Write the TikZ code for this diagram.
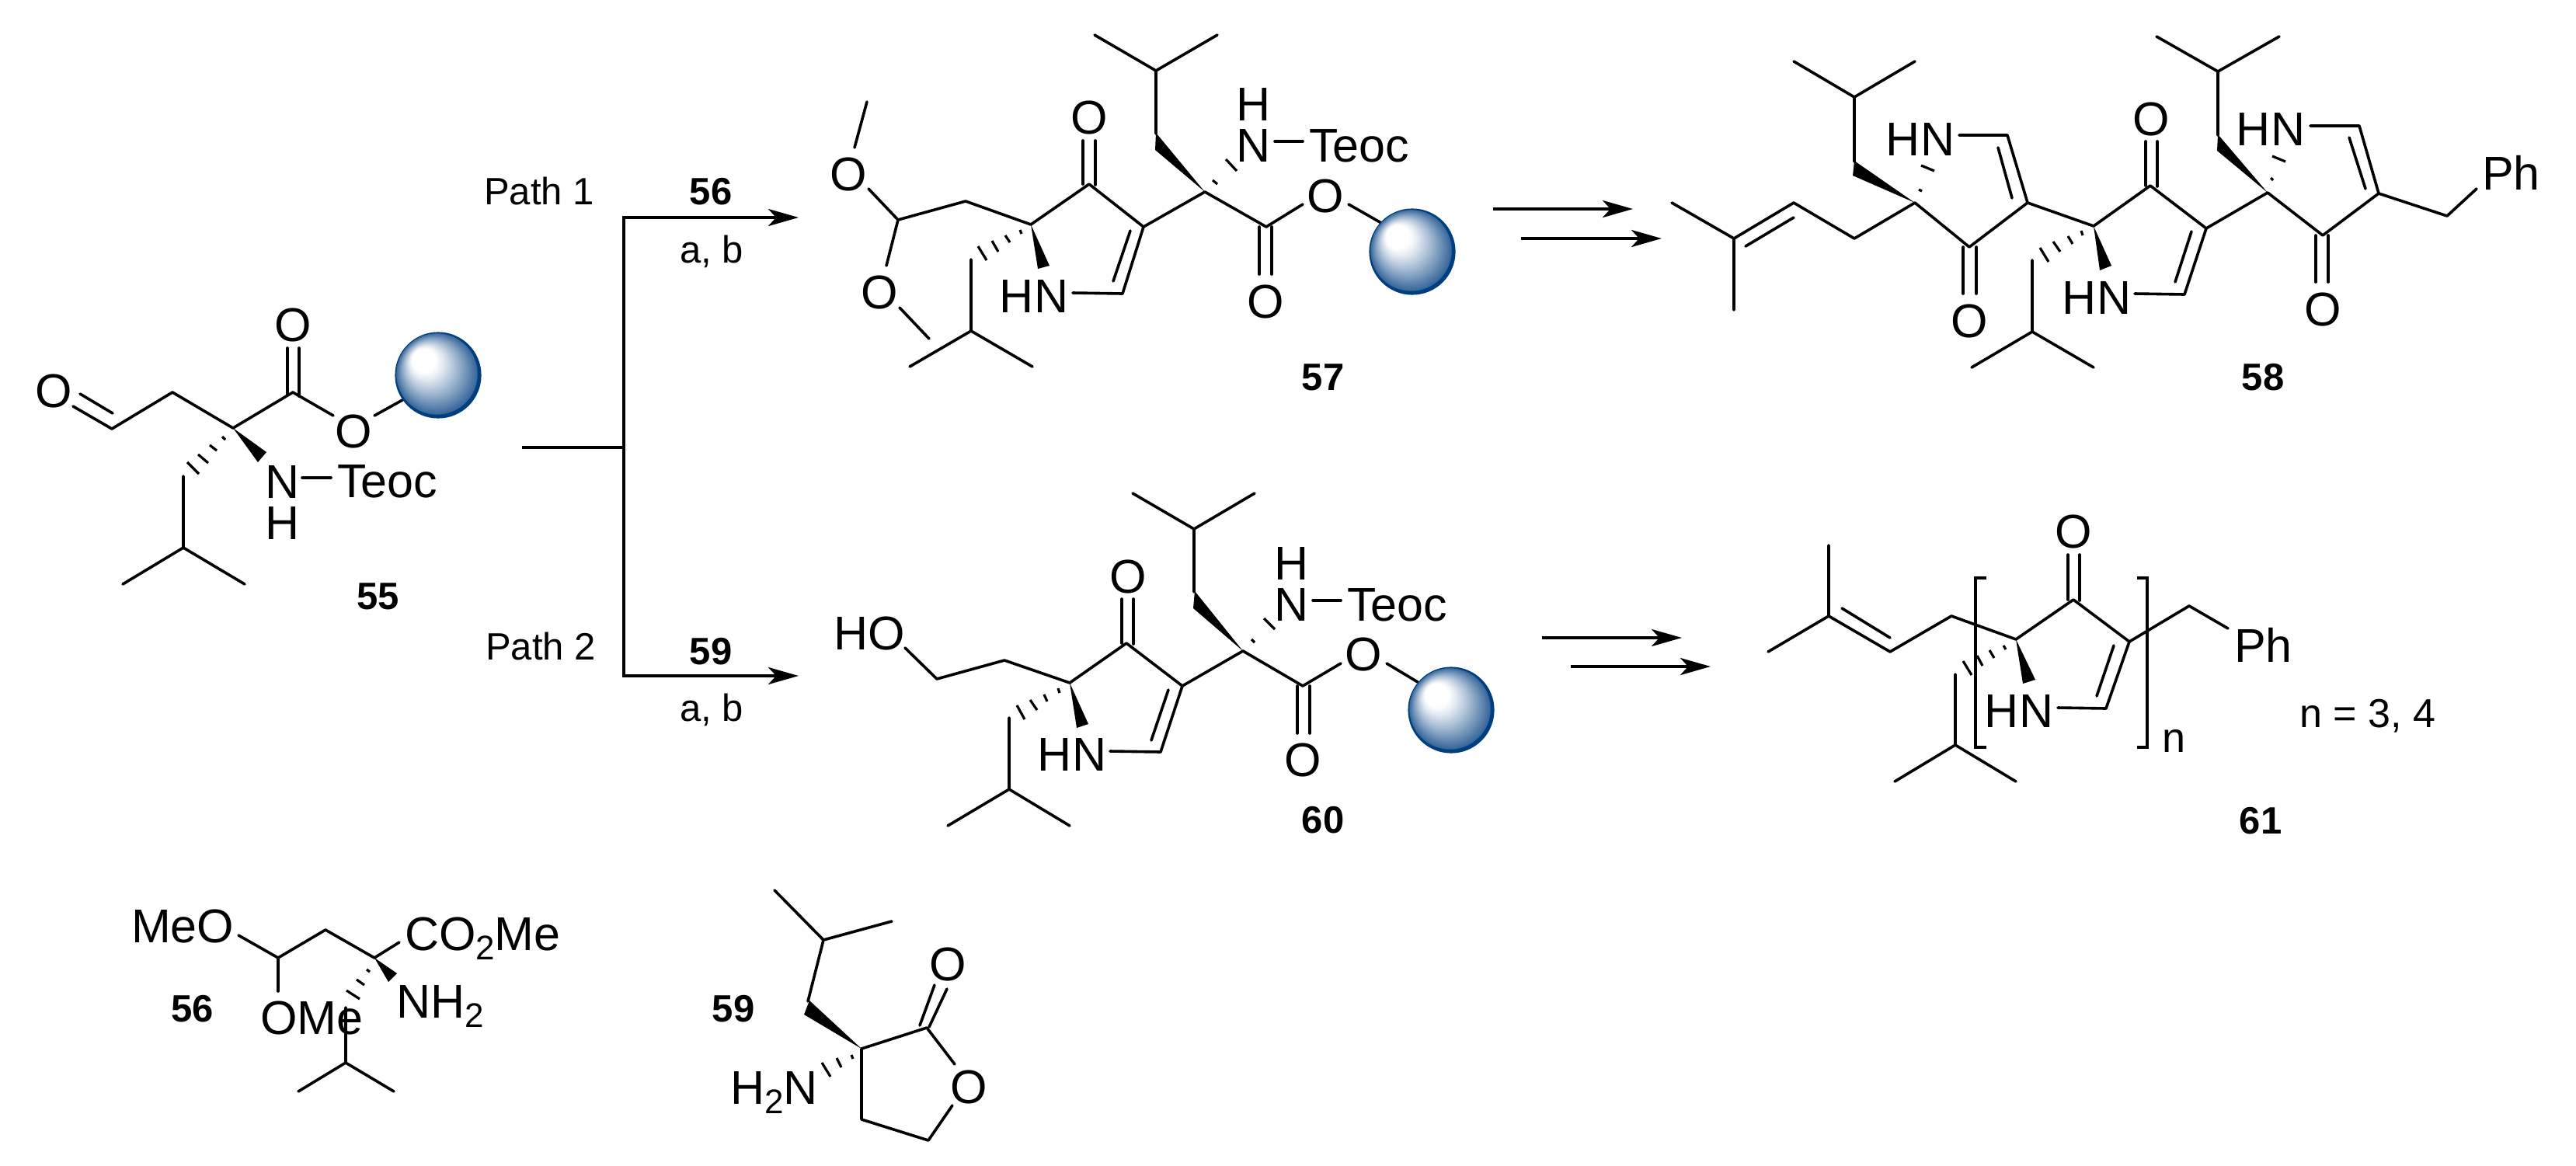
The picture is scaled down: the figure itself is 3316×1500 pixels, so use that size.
\documentclass[tikz,border=0pt]{standalone}
\usepackage{fontspec}
\setmainfont{Liberation Sans}
\usetikzlibrary{arrows.meta}
\definecolor{sphedge}{RGB}{0,62,128}
\newcounter{labno}
\tikzset{
  bond/.style={line width=3.6pt,line cap=round,line join=round},
  hashb/.style={line width=3.2pt,line cap=butt},
  rxn/.style={line width=4pt,-{Stealth[length=39pt,width=22pt,inset=10pt]}},
  frame/.style={line width=4.2pt,line cap=butt,line join=miter},
  atomf/.style={inner sep=0pt,outer sep=0pt,font=\fontsize{61}{63}\selectfont},
  capt/.style={inner sep=0pt,outer sep=0pt,font=\fontsize{49}{50}\selectfont},
  capb/.style={inner sep=0pt,outer sep=0pt,font=\fontsize{49}{50}\selectfont\bfseries},
}
\newcommand\subn[1]{\raisebox{-12pt}{\fontsize{44}{46}\selectfont #1}}
% atom label centred on (x,y)
\newcommand\atom[3]{\stepcounter{labno}\node[atomf,anchor=base] (L\number\value{labno}) at (#1,#2+22) {#3};}
% left-anchored atom text: x, baseline
\newcommand\txt[3]{\stepcounter{labno}\node[atomf,anchor=base west] (L\number\value{labno}) at (#1,#2) {#3};}
% captions: x, baseline
\newcommand\cpt[3]{\stepcounter{labno}\node[capt,anchor=base] (L\number\value{labno}) at (#1,#2) {#3};}
\newcommand\num[3]{\stepcounter{labno}\node[capb,anchor=base] (L\number\value{labno}) at (#1,#2) {#3};}
\newcommand\resin[2]{%
  \foreach \i in {0,...,49}{%
    \pgfmathsetmacro\tt{\i/50}%
    \pgfmathsetmacro\pp{\tt<0.06?100:78*(max(0,1-(\tt-0.06)/0.66))^1.15}%
    \pgfmathsetmacro\cx{#1-25*\tt}%
    \pgfmathsetmacro\cy{#2-26*\tt}%
    \pgfmathsetmacro\rr{55.6*(1-\tt)}%
    \fill[sphedge!\pp!white] (\cx,\cy) circle[radius=\rr];
  }%
}
\begin{document}
\begin{tikzpicture}[x=1pt,y=-1pt]
\useasboundingbox (0,0) rectangle (3316,1500);
\fill[white] (0,0) rectangle (3316,1500);

%% ---- compound 55
\draw[bond] (94,523) -- (144,552) -- (222,505) -- (300,551) -- (377,505) -- (429,535);
\draw[bond] (103,507) -- (145,532);
\draw[bond] (370,448) -- (370,508);
\draw[bond] (385,448) -- (385,510);
\draw[bond] (482,535) -- (518,515);
\fill (300,551) -- (343,582) -- (332,595) -- cycle;
\draw[hashb] (286,562) -- (290,566) (270,573) -- (279,580) (255,585) -- (268,596) (241,595) -- (256,610);
\draw[bond] (236,613) -- (236,705) (158,752) -- (236,705) -- (315,752);
\draw[bond] (389,615) -- (426,615);
\resin{564}{483}
\atom{69}{502}{O}
\atom{377}{417}{O}
\atom{455}{554}{O}
\atom{364}{619}{N}
\atom{364}{672}{H}
\txt{434}{640}{Teoc}
\num{487}{784}{55}

%% ---- branching scheme
\coordinate (stem) at (672,576);
\coordinate (fork) at (803,576);
\coordinate (top) at (803,280);
\coordinate (bot) at (803,870);
\coordinate (tipa) at (1028,280);
\coordinate (tipb) at (1028,870);
\draw[frame] (stem) -- (fork);
\draw[frame] ([yshift=2pt]top) -- ([yshift=-2pt]bot);
\draw[rxn] (top) -- (tipa);
\draw[rxn] (bot) -- (tipb);
\cpt{694}{263}{Path 1}
\cpt{696}{849}{Path 2}
\num{915}{263}{56}
\cpt{916}{338}{a, b}
\num{915}{855}{59}
\cpt{916}{928}{a, b}

%% ---- compound 57
\draw[bond] (1116,131) -- (1100,190);
\draw[bond] (1118,243) -- (1156,283) -- (1243,259) -- (1327,289) -- (1402,237) -- (1472,292) -- (1445,378) -- (1381,377);
\draw[bond] (1156,283) -- (1141,342);
\draw[bond] (1158,396) -- (1196,436);
\draw[bond] (1455,297) -- (1433,362);
\draw[bond] (1394,181) -- (1394,237) (1410,181) -- (1410,238);
\fill (1327,289) -- (1351,342) -- (1336,346) -- cycle;
\draw[hashb] (1313,296) -- (1315,301) (1294,303) -- (1300,312) (1277,310) -- (1285,324) (1259,317) -- (1270,335);
\draw[bond] (1250,334) -- (1250,426) (1171,472) -- (1250,426) -- (1329,472);
\draw[bond] (1472,292) -- (1551,247) -- (1630,292) -- (1677,263);
\fill (1551,247) -- (1488,171) -- (1487,193) -- cycle;
\draw[bond] (1488,172) -- (1488,91) (1409,45) -- (1488,91) -- (1567,45);
\draw[hashb] (1561,232) -- (1567,237) (1578,205) -- (1592,220);
\draw[bond] (1641,182) -- (1677,182);
\draw[bond] (1621,292) -- (1621,353) (1637,292) -- (1637,353);
\draw[bond] (1736,263) -- (1778,287);
\resin{1818}{324}
\atom{1092}{223}{O}
\atom{1132}{375}{O}
\atom{1402}{150}{O}
\atom{1331}{380}{HN}
\atom{1614}{133}{H}
\atom{1614}{186}{N}
\txt{1685}{208}{Teoc}
\atom{1629}{387}{O}
\atom{1706}{251}{O}
\num{1703}{502}{57}

%% ---- reaction arrows to 58 and 61
\coordinate (a1s) at (1922,269); \coordinate (a1e) at (2102,269);
\coordinate (a2s) at (1958,307); \coordinate (a2e) at (2139,307);
\coordinate (a3s) at (1985,821); \coordinate (a3e) at (2165,821);
\coordinate (a4s) at (2022,858); \coordinate (a4e) at (2202,858);
\draw[rxn] (a1s) -- (a1e);
\draw[rxn] (a2s) -- (a2e);
\draw[rxn] (a3s) -- (a3e);
\draw[rxn] (a4s) -- (a4e);

%% ---- compound 58
\draw[bond] (2152,261) -- (2232,307) -- (2232,399) (2232,307) -- (2309,261) -- (2387,307) -- (2465,261) -- (2535,318) -- (2610,261) -- (2584,174) -- (2522,174);
\draw[bond] (2247,317) -- (2309,280);
\draw[bond] (2572,190) -- (2590,255);
\draw[bond] (2527,318) -- (2527,378) (2544,318) -- (2544,378);
\fill (2465,261) -- (2387,207) -- (2385,226) -- cycle;
\draw[bond] (2387,208) -- (2387,125) (2309,79) -- (2387,125) -- (2465,79);
\draw[hashb] (2470,244) -- (2474,246) (2473,213) -- (2490,220);
\draw[bond] (2610,261) -- (2695,291) -- (2768,239) -- (2840,294) -- (2812,379) -- (2748,378);
\draw[bond] (2821,298) -- (2800,363);
\draw[bond] (2762,182) -- (2762,239) (2777,182) -- (2777,240);
\fill (2695,291) -- (2718,342) -- (2703,348) -- cycle;
\draw[hashb] (2679,297) -- (2681,303) (2662,304) -- (2668,314) (2643,311) -- (2652,324) (2626,319) -- (2637,337);
\draw[bond] (2616,335) -- (2616,427) (2538,473) -- (2616,427) -- (2695,473);
\draw[bond] (2840,294) -- (2919,248) -- (2990,303) -- (3062,249) -- (3037,162) -- (2974,162);
\draw[bond] (3024,177) -- (3045,243);
\draw[bond] (2981,303) -- (2981,363) (2997,303) -- (2997,363);
\fill (2919,248) -- (2855,173) -- (2854,194) -- cycle;
\draw[bond] (2855,174) -- (2855,92) (2776,47) -- (2855,92) -- (2934,47);
\draw[hashb] (2923,229) -- (2926,232) (2925,201) -- (2942,208);
\draw[bond] (3062,249) -- (3150,278) -- (3188,243);
\atom{2472}{178}{HN}
\atom{2535}{412}{O}
\atom{2699}{382}{HN}
\atom{2769}{152}{O}
\atom{2923}{165}{HN}
\atom{2990}{397}{O}
\txt{3195}{244}{Ph}
\num{2913}{502}{58}

%% ---- compound 60
\draw[bond] (1165,834) -- (1206,874) -- (1293,850) -- (1377,879) -- (1450,828) -- (1522,883) -- (1494,968) -- (1429,967);
\draw[bond] (1504,888) -- (1482,953);
\draw[bond] (1444,771) -- (1444,828) (1459,771) -- (1459,829);
\fill (1377,879) -- (1401,932) -- (1386,937) -- cycle;
\draw[hashb] (1362,886) -- (1364,892) (1344,894) -- (1348,903) (1326,901) -- (1335,914) (1309,908) -- (1319,926);
\draw[bond] (1299,924) -- (1299,1016) (1220,1063) -- (1299,1016) -- (1377,1063);
\draw[bond] (1522,883) -- (1600,838) -- (1677,883) -- (1726,854);
\fill (1600,838) -- (1538,761) -- (1536,783) -- cycle;
\draw[bond] (1537,762) -- (1537,681) (1458,635) -- (1537,681) -- (1615,635);
\draw[hashb] (1611,823) -- (1615,827) (1627,796) -- (1641,810);
\draw[bond] (1690,773) -- (1726,773);
\draw[bond] (1670,883) -- (1670,944) (1686,883) -- (1686,944);
\draw[bond] (1785,854) -- (1825,878);
\resin{1868}{914}
\atom{1119}{814}{HO}
\atom{1380}{970}{HN}
\atom{1452}{741}{O}
\atom{1663}{724}{H}
\atom{1663}{777}{N}
\txt{1734}{799}{Teoc}
\atom{1677}{977}{O}
\atom{1755}{841}{O}
\num{1703}{1072}{60}

%% ---- compound 61
\draw[bond] (2354,702) -- (2354,793) (2276,839) -- (2354,793) -- (2433,839) -- (2512,793) -- (2595,823) -- (2669,772) -- (2741,826) -- (2711,912) -- (2649,911);
\draw[bond] (2371,783) -- (2433,821);
\draw[bond] (2721,831) -- (2699,896);
\draw[bond] (2662,714) -- (2662,772) (2677,714) -- (2677,773);
\fill (2595,823) -- (2620,875) -- (2604,880) -- cycle;
\draw[hashb] (2579,831) -- (2582,836) (2561,837) -- (2567,847) (2545,844) -- (2552,857) (2527,851) -- (2538,869);
\draw[bond] (2517,868) -- (2517,959) (2439,1006) -- (2517,959) -- (2595,1006);
\draw[bond] (2741,826) -- (2818,780) -- (2868,809);
\draw[frame,line width=3.4pt] (2557,744) -- (2543,744) -- (2543,962) -- (2557,962);
\draw[frame,line width=3.4pt] (2751,744) -- (2764,744) -- (2764,962) -- (2751,962);
\atom{2669}{683}{O}
\atom{2599}{914}{HN}
\txt{2876}{852}{Ph}
\cpt{2798}{968}{\fontsize{54}{56}\selectfont n}
\stepcounter{labno}\node[capt,anchor=base west,font=\fontsize{52}{54}\selectfont] (L\number\value{labno}) at (2960,936) {n = 3, 4};
\num{2910}{1073}{61}

%% ---- reagent 56
\draw[bond] (307,1204) -- (358,1233) -- (419,1197) -- (482,1233) -- (514,1213);
\draw[bond] (358,1233) -- (358,1276);
\fill (482,1233) -- (511,1253) -- (500,1264) -- cycle;
\draw[hashb] (472,1248) -- (476,1251) (459,1261) -- (469,1268) (446,1275) -- (463,1286);
\draw[bond] (445,1297) -- (445,1368) (384,1405) -- (445,1368) -- (507,1405);
\txt{169}{1213}{MeO}
\txt{521}{1223}{CO\subn{2}Me}
\txt{335}{1331}{OMe}
\txt{510}{1310}{NH\subn{2}}
\num{248}{1315}{56}

%% ---- reagent 59
\draw[bond] (997,1146) -- (1060,1210) -- (1148,1186) (1060,1210) -- (1040,1289);
\fill (1109,1350) -- (1042,1288) -- (1035,1306) -- cycle;
\draw[bond] (1196,1322) -- (1219,1273) (1184,1320) -- (1203,1268);
\draw[bond] (1229,1370) -- (1193,1323) -- (1109,1350) -- (1109,1441) -- (1195,1468) -- (1226,1423);
\draw[hashb] (1096,1358) -- (1098,1363) (1077,1362) -- (1083,1374) (1058,1368) -- (1069,1386);
\atom{1220}{1240}{O}
\atom{1247}{1398}{O}
\txt{940}{1421}{H\subn{2}N}
\num{944}{1315}{59}
\end{tikzpicture}
\end{document}
